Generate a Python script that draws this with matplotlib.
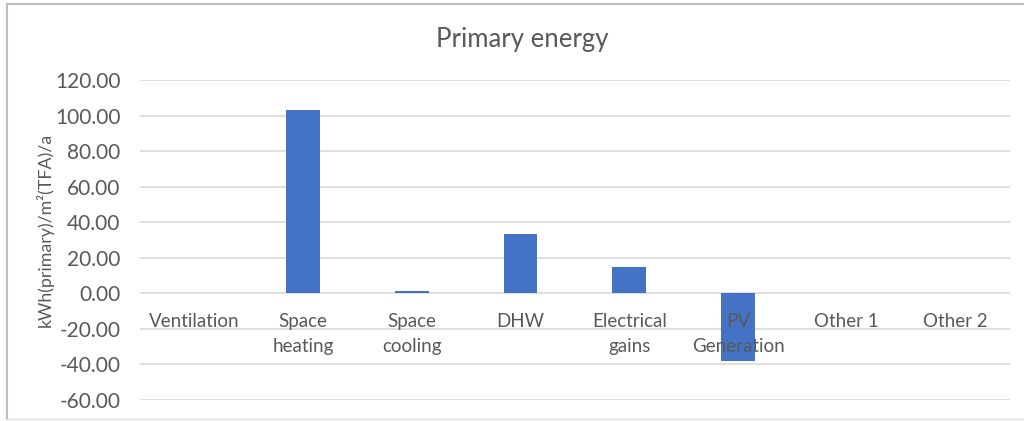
import matplotlib.pyplot as plt
from matplotlib.lines import Line2D

plt.rcParams['font.family'] = ['Lato', 'DejaVu Sans']

categories = ['Ventilation', 'Space\nheating', 'Space\ncooling', 'DHW',
              'Electrical\ngains', 'PV\nGeneration', 'Other 1', 'Other 2']
values = [0.0, 103.0, 1.5, 33.5, 15.0, -38.0, 0.0, 0.0]
y_ticks = [-60, -40, -20, 0, 20, 40, 60, 80, 100, 120]

txt = '#595959'
fig = plt.figure(figsize=(10.24, 4.21), dpi=100)
ax = fig.add_axes([0.1367, 0.0499, 0.8496, 0.7601])

# gridlines behind the bars, tick labels stay on top (as in Excel)
for v in y_ticks:
    ax.axhline(v, color='#D9D9D9', linewidth=1.2, zorder=0)

x = range(len(categories))
ax.bar(x, values, width=0.31, color='#4472C4', zorder=1)

ax.set_xlim(-0.5, len(categories) - 0.5)
ax.set_ylim(-60, 120)
ax.set_yticks(y_ticks)
ax.set_yticklabels(['%.2f' % v for v in y_ticks])
ax.set_xticks(list(x))
ax.set_xticklabels(categories)

for s in ['top', 'right', 'left', 'bottom']:
    ax.spines[s].set_visible(False)
ax.spines['bottom'].set_position(('data', 0))
ax.tick_params(axis='x', length=0, labelsize=13.5, labelcolor=txt, pad=14)
ax.tick_params(axis='y', length=0, labelsize=15, labelcolor=txt, pad=14)
for lbl in ax.get_xticklabels():
    lbl.set_linespacing(1.6)

ax.set_ylabel('kWh(primary)/m²(TFA)/a', fontsize=12.8, color=txt)
ax.yaxis.set_label_coords(-0.099, 0.53)
fig.text(0.51, 0.905, 'Primary energy', ha='center', va='center',
         fontsize=18.5, color=txt)

# chart frame
fig.add_artist(Line2D([0.007, 1.0], [0.9905, 0.9905], color='#BFBFBF', lw=1.5))
fig.add_artist(Line2D([0.007, 0.007], [0.004, 0.9905], color='#BFBFBF', lw=1.5))
fig.add_artist(Line2D([0.007, 1.0], [0.004, 0.004], color='#E0E0E0', lw=1))

fig.savefig('out.png', dpi=100)
